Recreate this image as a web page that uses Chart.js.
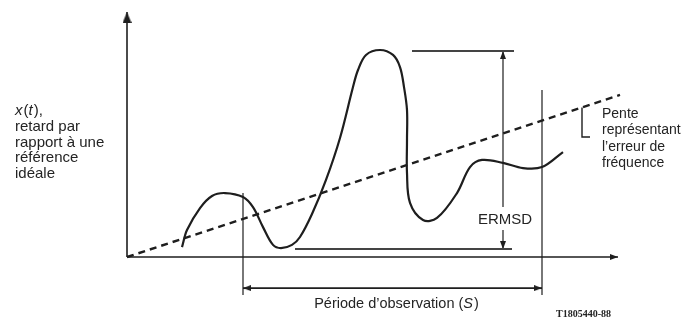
<!DOCTYPE html>
<html>
<head>
<meta charset="utf-8">
<script src="https://cdn.jsdelivr.net/npm/chart.js@4"></script>
<style>
  body { margin: 0; background: #fff; }
  canvas { display: block; }
</style>
</head>
<body>
<canvas id="chart" width="690" height="320"></canvas>
<script>
// x(t) curve (time units 0-100, delay units -20-100)
const curveX = [11, 12, 14.6, 17, 19.6, 23.2, 25.2, 27.2, 29.2, 30.8, 33, 34.6, 37, 39.8, 42.6, 45.2, 46.2, 47.8, 50.6, 53.2, 54.6, 55.4, 56, 56, 56, 56.6, 59.2, 62, 66, 68.6, 71, 75.2, 79.2, 83, 87.2]
const curveY = [4.0, 10.9, 19.8, 24.7, 25.9, 24.3, 20.2, 12.1, 4.9, 3.6, 4.9, 8.1, 17.4, 31.2, 48.2, 68.8, 75.7, 81.8, 83.8, 81.8, 76.9, 68.8, 59.5, 47.4, 34.0, 21.9, 15.0, 15.8, 25.9, 36.4, 39.3, 38.1, 36.0, 36.4, 42.5]

// slope line (frequency error)
const trendX = [0, 98.6]
const trendY = [0, 65.6]

// observation period S
const obsX = [23.2, 83]
const obsTop = [25.9, 67.6]
const obsBottom = -15.4
const obsArrowY = -12.6

// ERMSD span
const ermsdX = 75.2
const ermsdMax = 83.4
const ermsdMin = 3.2
const ermsdGap = [20.2, 10.9]
const maxLineX = [57, 77.4]
const minLineX = [33.6, 77]

// axes ends
const axisXEnd = 98.2
const axisYEnd = 99.2

// slope bracket
const bracketX = [91, 92.6]
const bracketY = [60.5, 48.6]

const yLabelLines = ['x(t),', 'retard par', 'rapport à une', 'référence', 'idéale']
const slopeLines = ['Pente', 'représentant', 'l\u2019erreur de', 'fréquence']
const periodLabel = ['Période d\u2019observation (', 'S', ')']
const ermsdLabel = 'ERMSD'
const figId = 'T1805440-88'

const ink = '#1e1e1e'

const arrowHead = (len, w) => {
    const c = document.createElement('canvas')
    c.width = w
    c.height = len * 2
    const g = c.getContext('2d')
    g.fillStyle = ink
    g.beginPath()
    g.moveTo(w / 2, len)
    g.lineTo(w, len * 2)
    g.lineTo(0, len * 2)
    g.closePath()
    g.fill()
    return c
}
const bigHead = arrowHead(11, 9)
const smallHead = arrowHead(8, 6)

const seg = (xs, ys, opts) => Object.assign({
    data: xs.map((x, i) => ({x: x, y: ys[i]})),
    showLine: true,
    borderColor: ink,
    borderWidth: 1.4,
    pointRadius: 0,
    tension: 0,
    clip: false
}, opts)

// line with arrowheads at chosen ends
const arrowSeg = (xs, ys, head, rotations, width) => seg(xs, ys, {
    borderWidth: width,
    pointStyle: head,
    pointRadius: rotations.map(r => r === null ? 0 : 3),
    rotation: rotations.map(r => r === null ? 0 : r)
})

const datasets = [
    // axes
    arrowSeg([0, 0], [0, axisYEnd], bigHead, [null, 0], 1.6),
    arrowSeg([0, axisXEnd], [0, 0], smallHead, [null, 90], 1.6),
    // curve
    seg(curveX, curveY, {borderWidth: 2.2, tension: 0.35}),
    // slope
    seg(trendX, trendY, {borderWidth: 2.4, borderDash: [7, 5]}),
    // period bounds
    seg([obsX[0], obsX[0]], [obsTop[0], obsBottom], {borderWidth: 1.2}),
    seg([obsX[1], obsX[1]], [obsTop[1], obsBottom], {borderWidth: 1.2}),
    arrowSeg(obsX, [obsArrowY, obsArrowY], smallHead, [270, 90], 1.6),
    // max / min lines
    seg(maxLineX, [ermsdMax, ermsdMax], {borderWidth: 2, borderColor: '#444'}),
    seg(minLineX, [ermsdMin, ermsdMin], {borderWidth: 2, borderColor: '#444'}),
    // ERMSD arrow split round its label
    arrowSeg([ermsdX, ermsdX], [ermsdMax, ermsdGap[0]], smallHead, [0, null], 1.2),
    arrowSeg([ermsdX, ermsdX], [ermsdGap[1], ermsdMin], smallHead, [null, 180], 1.2),
    // bracket
    seg([bracketX[0], bracketX[0], bracketX[1]], [bracketY[0], bracketY[1], bracketY[1]], {borderWidth: 1.4})
]

const labels = {
    id: 'labels',
    afterDraw(chart) {
        const {ctx, scales: {x, y}} = chart
        ctx.save()
        ctx.fillStyle = '#242424'
        ctx.textBaseline = 'alphabetic'

        // y axis label, x and t in italics
        const lx = 15
        let cx = lx
        const parts = [['x', true], ['(', false], ['t', true], ['),', false]]
        parts.forEach(([s, it]) => {
            ctx.font = (it ? 'italic ' : '') + '15px "Liberation Sans"'
            ctx.fillText(s, cx, 115)
            cx += ctx.measureText(s).width + (it ? 1 : 0)
        })
        ctx.font = '15px "Liberation Sans"'
        yLabelLines.slice(1).forEach((s, i) => ctx.fillText(s, lx, 131 + i * 15.5))

        // slope label
        ctx.font = '14px "Liberation Sans"'
        const sx = x.getPixelForValue(bracketX[1]) + 12
        slopeLines.forEach((s, i) => ctx.fillText(s, sx, 118 + i * 16.3))

        // ERMSD
        ctx.font = '15px "Liberation Sans"'
        ctx.textAlign = 'center'
        ctx.fillText(ermsdLabel, x.getPixelForValue(ermsdX) + 2, y.getPixelForValue((ermsdGap[0] + ermsdGap[1]) / 2) + 5)

        // observation period
        ctx.textAlign = 'left'
        ctx.font = '14.5px "Liberation Sans"'
        const w0 = ctx.measureText(periodLabel[0]).width
        ctx.font = 'italic 14.5px "Liberation Sans"'
        const w1 = ctx.measureText(periodLabel[1]).width + 1
        ctx.font = '14.5px "Liberation Sans"'
        const w2 = ctx.measureText(periodLabel[2]).width
        const px = (x.getPixelForValue(obsX[0]) + x.getPixelForValue(obsX[1])) / 2 + 4 - (w0 + w1 + w2) / 2
        const py = y.getPixelForValue(obsArrowY) + 20
        ctx.fillText(periodLabel[0], px, py)
        ctx.font = 'italic 14.5px "Liberation Sans"'
        ctx.fillText(periodLabel[1], px + w0, py)
        ctx.font = '14.5px "Liberation Sans"'
        ctx.fillText(periodLabel[2], px + w0 + w1, py)

        // figure id
        ctx.font = 'bold 10px "Liberation Serif"'
        ctx.fillText(figId, 556, 317)
        ctx.restore()
    }
}

new Chart(document.getElementById('chart').getContext('2d'), {
    type: 'scatter',
    data: {datasets: datasets},
    options: {
        responsive: false,
        animation: false,
        events: [],
        layout: {padding: {left: 127, right: 63, top: 10, bottom: 13.6}},
        scales: {
            x: {type: 'linear', min: 0, max: 100, display: false},
            y: {type: 'linear', min: -20, max: 100, display: false}
        },
        plugins: {
            legend: {display: false},
            tooltip: {enabled: false}
        }
    },
    plugins: [labels]
});
</script>
</body>
</html>
